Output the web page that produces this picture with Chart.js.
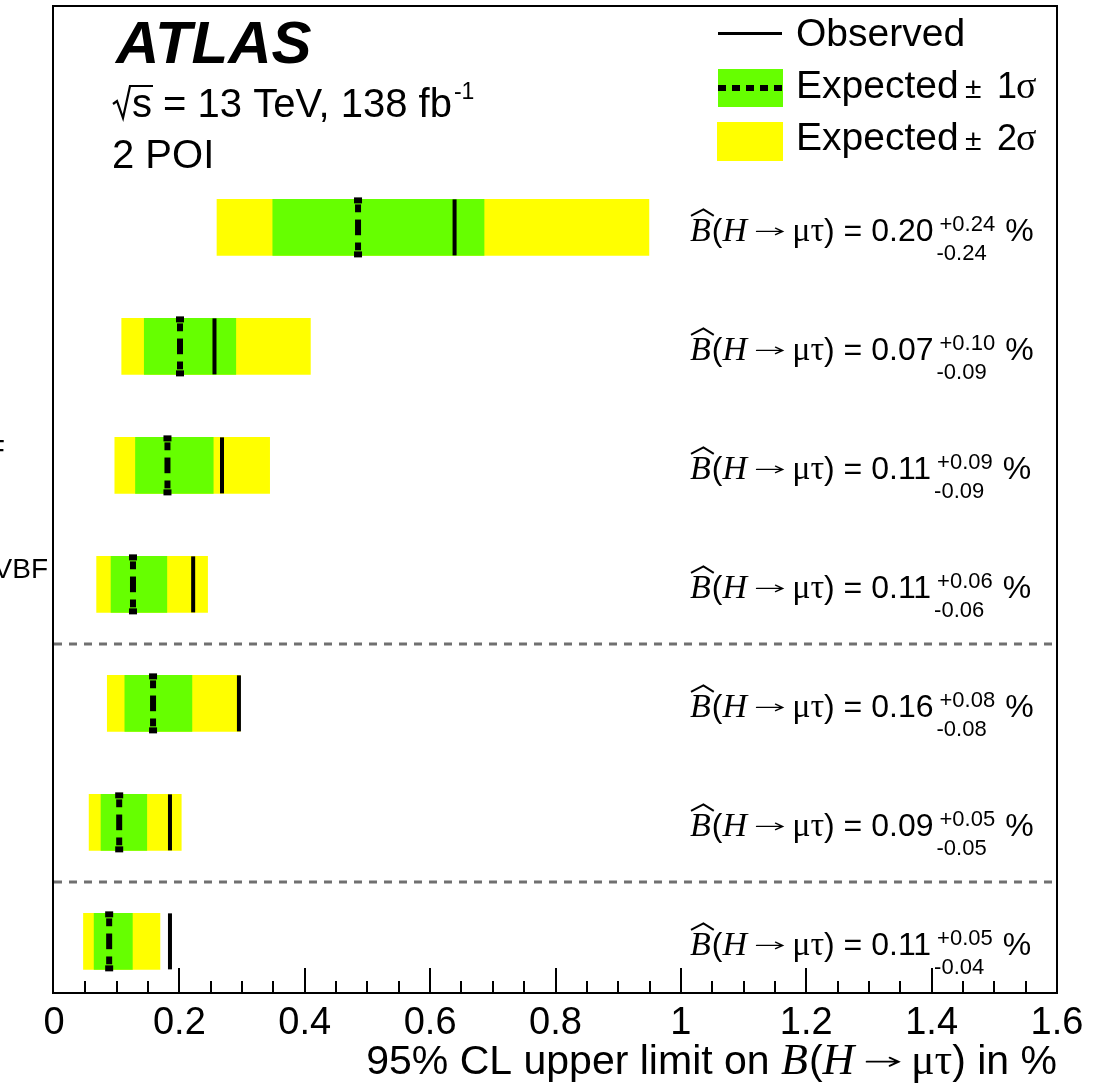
<!DOCTYPE html>
<html>
<head>
<meta charset="utf-8">
<script src="https://cdn.jsdelivr.net/npm/chart.js@4.4.0/dist/chart.umd.min.js"></script>
<style>
  html, body { margin: 0; padding: 0; background: #ffffff; }
  canvas { display: block; }
</style>
</head>
<body>
<canvas id="c" width="1107" height="1086"></canvas>
<script>
// Rows, top to bottom
const rows = [0, 1, 2, 3, 4, 5, 6];
const rowLabels = ['', '', 'non-VBF', 'VBF', '', '', ''];
// rows per block, separated by dashed lines
const groupSizes = [4, 2, 1];

// 95% CL upper limits on B(H -> mu tau) in %
const observed  = [0.639, 0.256, 0.268, 0.222, 0.295, 0.185, 0.185];
const expected  = [0.485, 0.201, 0.181, 0.126, 0.158, 0.104, 0.088];
const minus1sig = [0.349, 0.144, 0.130, 0.091, 0.113, 0.075, 0.064];
const plus1sig  = [0.686, 0.290, 0.254, 0.180, 0.220, 0.148, 0.125];
const minus2sig = [0.260, 0.108, 0.097, 0.068, 0.085, 0.056, 0.047];
const plus2sig  = [0.949, 0.409, 0.344, 0.245, 0.297, 0.203, 0.169];

// best-fit branching ratios with uncertainties
const bestFit = ['0.20', '0.07', '0.11', '0.11', '0.16', '0.09', '0.11'];
const errUp   = ['+0.24', '+0.10', '+0.09', '+0.06', '+0.08', '+0.05', '+0.05'];
const errDown = ['-0.24', '-0.09', '-0.09', '-0.06', '-0.08', '-0.05', '-0.04'];

const xTickLabels = ['0', '0.2', '0.4', '0.6', '0.8', '1', '1.2', '1.4', '1.6'];

const SANS = '"Liberation Sans", Arial, Helvetica, sans-serif';
const SERIF = '"Liberation Serif", "Times New Roman", "DejaVu Serif", serif';
const YELLOW = '#ffff00';
const GREEN = '#66ff00';

// draws a run of text pieces; returns the end x
function drawRun(ctx, x, base, pieces) {
  for (const p of pieces) {
    if (p.arrow) {
      x = drawArrow(ctx, x, base, p.arrow, p.size);
      continue;
    }
    ctx.font = p.font;
    ctx.fillText(p.text, x, base + (p.dy || 0));
    x += ctx.measureText(p.text).width + (p.after || 0);
  }
  return x;
}

function runWidth(ctx, pieces) {
  let w = 0;
  for (const p of pieces) {
    if (p.arrow) { w += p.arrow + 0.6 * p.size; continue; }
    ctx.font = p.font;
    w += ctx.measureText(p.text).width + (p.after || 0);
  }
  return w;
}

// right arrow with an open head, on the maths axis
function drawArrow(ctx, x, base, len, fs) {
  const gap = 0.3 * fs;
  const y0 = base - 0.3 * fs;
  const x0 = x + gap, x1 = x + gap + len;
  ctx.save();
  ctx.lineWidth = Math.max(1.4, fs * 0.045);
  ctx.lineCap = 'round';
  ctx.beginPath();
  ctx.moveTo(x0, y0);
  ctx.lineTo(x1, y0);
  ctx.moveTo(x1 - 0.22 * fs, y0 - 0.1 * fs);
  ctx.lineTo(x1, y0);
  ctx.lineTo(x1 - 0.22 * fs, y0 + 0.1 * fs);
  ctx.stroke();
  ctx.restore();
  return x1 + gap;
}

// B(H -> mu tau) pieces
function brPieces(fs, serifFs, arrowLen) {
  return [
    { text: 'B', font: 'italic ' + serifFs + 'px ' + SERIF, after: 1 },
    { text: '(', font: fs + 'px ' + SANS },
    { text: 'H', font: 'italic ' + serifFs + 'px ' + SERIF },
    { arrow: arrowLen, size: fs },
    { text: '\u03bc\u03c4', font: serifFs + 'px ' + SERIF },
    { text: ')', font: fs + 'px ' + SANS }
  ];
}

function drawHat(ctx, x, base, serifFs) {
  ctx.font = 'italic ' + serifFs + 'px ' + SERIF;
  const wB = ctx.measureText('B').width;
  ctx.save();
  ctx.lineWidth = 2;
  ctx.beginPath();
  ctx.moveTo(x + 1, base - 0.74 * serifFs);
  ctx.lineTo(x + wB * 0.55 + 2, base - 0.93 * serifFs);
  ctx.lineTo(x + wB + 3, base - 0.74 * serifFs);
  ctx.stroke();
  ctx.restore();
}

// ROOT-style dashed expected marker
function drawExpectedMark(ctx, xp, yt, yb) {
  const h = yb - yt;
  ctx.fillStyle = '#000';
  ctx.fillRect(xp - 4, yt - 2, 8, 6);
  ctx.fillRect(xp - 4, yb - 4, 8, 6);
  [[0.09, 0.23], [0.36, 0.64], [0.77, 0.91]].forEach(([s, e]) => {
    ctx.fillRect(xp - 3, yt + s * h, 6, (e - s) * h);
  });
}

const decor = {
  id: 'decor',
  beforeDraw(chart) {
    const ctx = chart.ctx;
    ctx.save();
    ctx.fillStyle = '#ffffff';
    ctx.fillRect(0, 0, chart.width, chart.height);
    ctx.restore();
  },
  afterDatasetsDraw(chart) {
    const { ctx, chartArea: a, scales: { x, y } } = chart;
    const bars = chart.getDatasetMeta(1).data;
    ctx.save();

    // expected (dashed) and observed (solid) markers
    rows.forEach((r, i) => {
      const el = bars[i];
      const yc = y.getPixelForValue(r);
      const half = el.height / 2;
      const yt = yc - half, yb = yc + half;
      drawExpectedMark(ctx, x.getPixelForValue(expected[i]), yt, yb);
      ctx.fillStyle = '#000';
      ctx.fillRect(x.getPixelForValue(observed[i]) - 2, yt, 4, yb - yt);
    });

    // dashed separators between blocks
    ctx.strokeStyle = '#707070';
    ctx.lineWidth = 3;
    ctx.setLineDash([8, 7]);
    let n = 0;
    groupSizes.slice(0, -1).forEach(g => {
      n += g;
      const ys = Math.round(y.getPixelForValue(n - 0.5));
      ctx.beginPath();
      ctx.moveTo(a.left, ys);
      ctx.lineTo(a.right, ys);
      ctx.stroke();
    });
    ctx.setLineDash([]);

    // frame
    ctx.strokeStyle = '#000';
    ctx.lineWidth = 2;
    ctx.strokeRect(a.left - 1, a.top, a.right - a.left + 1, a.bottom - a.top);

    // inward ticks on the bottom axis, minor every 0.05
    ctx.lineWidth = 2;
    for (let k = 1; k < 32; k++) {
      const xp = Math.round(x.getPixelForValue(k * 0.05));
      const len = (k % 4 === 0) ? 25 : 12;
      ctx.beginPath();
      ctx.moveTo(xp, a.bottom);
      ctx.lineTo(xp, a.bottom - len);
      ctx.stroke();
    }
    ctx.restore();
  },
  afterDraw(chart) {
    const { ctx, chartArea: a, scales: { x, y } } = chart;
    ctx.save();
    ctx.fillStyle = '#000';
    ctx.strokeStyle = '#000';
    ctx.textBaseline = 'alphabetic';
    ctx.textAlign = 'left';

    // experiment label
    ctx.font = 'italic bold 60px ' + SANS;
    ctx.fillText('ATLAS', 116, 63);

    // sqrt(s) line
    ctx.lineWidth = 2.2;
    ctx.beginPath();
    ctx.moveTo(113, 104);
    ctx.lineTo(117, 101);
    ctx.lineTo(123, 118);
    ctx.lineTo(130, 86);
    ctx.lineTo(153, 86);
    ctx.stroke();
    let xe = drawRun(ctx, 132, 117, [
      { text: 's = 13 TeV, 138 fb', font: '40px ' + SANS }
    ]);
    drawRun(ctx, xe + 2, 99, [{ text: '-1', font: '23px ' + SANS }]);
    ctx.font = '40px ' + SANS;
    ctx.fillText('2 POI', 112, 168);

    // legend
    ctx.fillStyle = '#000';
    ctx.fillRect(718, 32, 64, 3);
    ctx.fillStyle = GREEN;
    ctx.fillRect(718, 69, 65, 38);
    ctx.fillStyle = '#000';
    for (let k = 0; k < 5; k++) ctx.fillRect(718 + k * 14, 85, 8, 6);
    ctx.fillStyle = YELLOW;
    ctx.fillRect(717, 122, 66, 39);
    ctx.fillStyle = '#000';
    ctx.font = '39px ' + SANS;
    ctx.fillText('Observed', 796, 46);
    [['1', 98], ['2', 150]].forEach(([s, base]) => {
      drawRun(ctx, 796, base, [{ text: 'Expected', font: '39px ' + SANS }]);
      ctx.font = '30px ' + SANS;
      ctx.fillText('\u00b1', 965, base);
      ctx.font = '36px ' + SANS;
      ctx.fillText(s, 997, base);
      const inkR = ctx.measureText(s).actualBoundingBoxRight;
      ctx.font = '38px ' + SERIF;
      ctx.fillText('\u03c3', 997 + inkR, base);
    });

    // per-row best-fit values
    rows.forEach((r, i) => {
      const base = Math.round(y.getPixelForValue(r) + 14);
      drawHat(ctx, 690, base, 34);
      let xx = drawRun(ctx, 690, base, brPieces(32, 34, 26));
      xx = drawRun(ctx, xx, base, [{ text: ' = ' + bestFit[i], font: '32px ' + SANS }]);
      ctx.font = '22px ' + SANS;
      const wUp = ctx.measureText(errUp[i]).width;
      const wDn = ctx.measureText(errDown[i]).width;
      ctx.fillText(errUp[i], xx + 6, base - 10);
      ctx.fillText(errDown[i], xx + 3, base + 19);
      ctx.font = '32px ' + SANS;
      ctx.fillText('%', xx + 6 + Math.max(wUp, wDn) + 10, base);
    });

    // row labels at the left edge
    ctx.font = '28px ' + SANS;
    ctx.textAlign = 'right';
    rows.forEach((r, i) => {
      if (rowLabels[i]) ctx.fillText(rowLabels[i], 48 - (rowLabels[i].length - 3) * 10.8, y.getPixelForValue(r) - 6);
    });
    ctx.textAlign = 'left';

    // axis title, right-aligned to the frame
    const pieces = [{ text: '95% CL upper limit on ', font: '41px ' + SANS }]
      .concat(brPieces(41, 44, 32))
      .concat([{ text: ' in %', font: '41px ' + SANS }]);
    const w = runWidth(ctx, pieces);
    drawRun(ctx, a.right - w, 1074, pieces);
    ctx.restore();
  }
};

new Chart(document.getElementById('c'), {
  type: 'bar',
  data: {
    datasets: [
      {
        label: 'Expected \u00b1 1\u03c3',
        data: rows.map(i => ({ y: i, x: [minus1sig[i], plus1sig[i]] })),
        backgroundColor: GREEN,
        borderWidth: 0,
        order: 1
      },
      {
        label: 'Expected \u00b1 2\u03c3',
        data: rows.map(i => ({ y: i, x: [minus2sig[i], plus2sig[i]] })),
        backgroundColor: YELLOW,
        borderWidth: 0,
        order: 2
      }
    ]
  },
  options: {
    indexAxis: 'y',
    responsive: false,
    animation: false,
    events: [],
    devicePixelRatio: 1,
    layout: { padding: { left: 54, right: 50, top: 6, bottom: 0 } },
    datasets: { bar: { grouped: false, barThickness: 56 } },
    plugins: { legend: { display: false }, tooltip: { enabled: false } },
    scales: {
      x: {
        type: 'linear',
        min: 0,
        max: 1.6,
        grid: { display: false, drawTicks: false },
        border: { display: false },
        ticks: {
          stepSize: 0.2,
          padding: 8,
          color: '#000',
          font: { family: SANS, size: 38 },
          maxRotation: 0,
          autoSkip: false,
          callback: (v, i) => xTickLabels[i]
        },
        afterFit: s => { s.height = 93; }
      },
      y: {
        type: 'linear',
        display: false,
        offset: false,
        reverse: true,
        min: -1.8605,
        max: 6.434,
        ticks: { stepSize: 1, includeBounds: false }
      }
    }
  },
  plugins: [decor]
});
</script>
</body>
</html>
